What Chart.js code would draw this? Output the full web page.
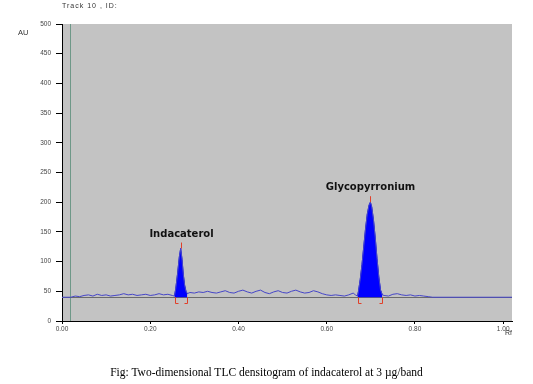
<!DOCTYPE html>
<html><head><meta charset="utf-8">
<script src="https://cdn.jsdelivr.net/npm/chart.js@4.4.1/dist/chart.umd.min.js"></script>
<style>
html,body{margin:0;padding:0;background:#fff;}
#wrap{position:relative;width:533px;height:384px;overflow:hidden;}
canvas{position:absolute;left:0;top:0;}
.t{position:absolute;font-family:"Liberation Sans",Arial,sans-serif;color:#333;white-space:nowrap;font-size:7px;}
#cap{position:absolute;left:0;width:533px;top:366px;text-align:center;font-family:"Liberation Serif","Times New Roman",serif;font-size:11.5px;color:#000;}
</style></head><body>
<div id="wrap"><canvas id="c" width="533" height="384"></canvas>
<div class="t" style="left:62px;top:2px;letter-spacing:1px">Track 10 , ID:</div>
<div class="t" style="left:18px;top:28px;font-size:7.5px;">AU</div>
<div class="t" style="left:505px;top:329px;">Rf</div>
<div id="cap">Fig: Two-dimensional TLC densitogram of indacaterol at 3 µg/band</div>
</div>
<script>
// Rf positions and detector response (AU)
const rf = [0.000,0.020,0.025,0.030,0.040,0.050,0.060,0.070,0.080,0.090,0.100,0.110,0.120,0.130,0.140,0.150,0.160,0.170,0.180,0.190,0.200,0.210,0.220,0.230,0.240,0.250,0.255,
0.258,0.262,0.266,0.269,0.272,0.275,0.278,0.281,0.284,
0.290,0.300,0.310,0.320,0.330,0.340,0.350,0.360,0.370,0.380,0.390,0.400,0.410,0.420,0.430,0.440,0.450,0.460,0.470,0.480,0.490,0.500,0.510,0.520,0.530,0.540,0.550,0.560,0.570,0.580,0.590,0.600,0.610,0.620,0.630,0.640,0.650,0.660,0.665,0.670,
0.672,0.676,0.680,0.684,0.688,0.692,0.696,0.699,0.702,0.706,0.710,0.714,0.718,0.722,0.726,
0.730,0.740,0.750,0.760,0.770,0.780,0.790,0.800,0.810,0.820,0.830,0.840,1.020];
const au = [40,40,41,42,41,43,44,42,45,43,44,42,43,44,46,44,45,43,44,45,43,44,46,44,45,43,42,
55,80,108,122,104,78,60,50,46,
48,47,49,48,50,48,47,49,51,48,47,50,52,49,47,50,52,48,46,49,51,48,47,50,52,49,47,48,51,49,46,44,43,44,43,42,44,47,44,42,
50,70,95,125,155,180,195,200,192,170,140,105,75,52,44,
43,42,45,46,44,43,44,42,43,42,41,40,40];
const baselineAU = 40;
const peakNames = ["Indacaterol", "Glycopyrronium"];
const peakStart = [0.255, 0.670];
const peakEnd = [0.284, 0.726];
const peakRf = [0.269, 0.699];
const xTicks = [0, 0.2, 0.4, 0.6, 0.8, 1.0];
const yTicks = [0, 50, 100, 150, 200, 250, 300, 350, 400, 450, 500];
const startLineRf = 0.018;

const mainData = rf.map((v, i) => ({x: v, y: au[i]}));
const peakSets = peakStart.map((s, k) => ({
  data: mainData.filter(p => p.x >= s && p.x <= peakEnd[k]),
  borderColor: '#0000ee', backgroundColor: '#0000ff', borderWidth: 1,
  pointRadius: 0, fill: {value: baselineAU}, tension: 0, order: 2
}));
const peakAU = peakRf.map(r => au[rf.indexOf(r)]);

const deco = {
  id: 'deco',
  beforeDraw(chart) {
    const {ctx, chartArea: a} = chart;
    ctx.save();
    ctx.fillStyle = '#c3c3c3';
    ctx.fillRect(a.left, a.top, a.right - a.left, a.bottom - a.top);
    ctx.restore();
  },
  beforeDatasetsDraw(chart) {
    const {ctx, chartArea: a, scales: {x, y}} = chart;
    ctx.save();
    ctx.lineWidth = 1;
    ctx.strokeStyle = '#6e9888';
    const gx = Math.round(x.getPixelForValue(startLineRf)) + 0.5;
    ctx.beginPath(); ctx.moveTo(gx, a.top); ctx.lineTo(gx, a.bottom); ctx.stroke();
    ctx.strokeStyle = '#6a6a6a';
    const by = Math.round(y.getPixelForValue(baselineAU)) + 0.5;
    ctx.beginPath(); ctx.moveTo(a.left, by); ctx.lineTo(a.right, by); ctx.stroke();
    ctx.restore();
  },
  afterDatasetsDraw(chart) {
    const {ctx, scales: {x, y}} = chart;
    ctx.save();
    ctx.strokeStyle = '#e0402a'; ctx.lineWidth = 1;
    const yb = Math.round(y.getPixelForValue(baselineAU)) + 0.5;
    peakNames.forEach((name, i) => {
      const xs = Math.round(x.getPixelForValue(peakStart[i])) + 0.5;
      const xe = Math.round(x.getPixelForValue(peakEnd[i])) + 0.5;
      ctx.beginPath();
      ctx.moveTo(xs + 3, yb + 6); ctx.lineTo(xs, yb + 6); ctx.lineTo(xs, yb);
      ctx.moveTo(xe - 3, yb + 6); ctx.lineTo(xe, yb + 6); ctx.lineTo(xe, yb);
      ctx.stroke();
      const xp = Math.round(x.getPixelForValue(peakRf[i])) + 0.5;
      const yp = y.getPixelForValue(peakAU[i]);
      ctx.beginPath(); ctx.moveTo(xp, yp); ctx.lineTo(xp, yp - 6); ctx.stroke();
      ctx.fillStyle = '#111';
      ctx.font = 'bold 10px "DejaVu Sans"';
      ctx.textAlign = 'center'; ctx.textBaseline = 'alphabetic';
      ctx.fillText(name, xp, yp - 12);
    });
    ctx.restore();
  }
};

new Chart(document.getElementById('c'), {
  type: 'line',
  data: {
    datasets: [
      {data: mainData, borderColor: '#4646c8', borderWidth: 1, pointRadius: 0, fill: false, tension: 0, order: 1},
      ...peakSets
    ]
  },
  options: {
    responsive: false, animation: false, devicePixelRatio: 1,
    layout: {padding: {left: 0, top: 24, right: 21, bottom: 0}},
    plugins: {legend: {display: false}, tooltip: {enabled: false}},
    scales: {
      x: {
        type: 'linear', min: 0, max: 1.02,
        afterBuildTicks: s => { s.ticks = xTicks.map(v => ({value: v})); },
        afterFit: s => { s.height = 63; },
        ticks: {callback: v => v.toFixed(2), font: {size: 6.5, family: 'Liberation Sans'}, color: '#444', padding: 1, maxRotation: 0},
        grid: {display: true, drawOnChartArea: false, drawTicks: true, tickLength: 3, color: '#000'},
        border: {display: true, color: '#000', width: 1}
      },
      y: {
        min: 0, max: 500,
        afterBuildTicks: s => { s.ticks = yTicks.map(v => ({value: v})); },
        afterFit: s => { s.width = 62; },
        ticks: {font: {size: 6.5, family: 'Liberation Sans'}, color: '#444', padding: 5},
        grid: {display: true, drawOnChartArea: false, drawTicks: true, tickLength: 6, color: '#000'},
        border: {display: true, color: '#000', width: 1}
      }
    }
  },
  plugins: [deco]
});
</script>
</body></html>
